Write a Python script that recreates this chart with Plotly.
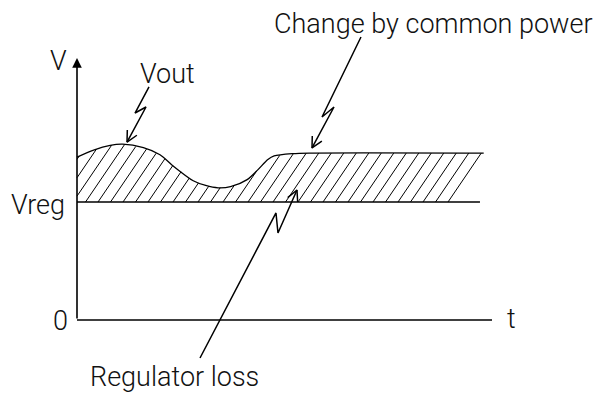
import numpy as np
import plotly.graph_objects as go

# ---- data (t in arbitrary time units, V normalised so Vreg = 1) ----
t_vals = [0, 0.4, 0.8, 1.1, 1.6, 2.0, 2.3, 2.8, 3.1, 3.4, 3.7, 4.1, 4.35, 4.6, 4.75, 5.2, 5.6, 9.8]
vout_vals = [1.38, 1.44, 1.48, 1.49, 1.46, 1.40, 1.31, 1.18, 1.14, 1.12, 1.13, 1.19, 1.27, 1.36, 1.39, 1.41, 1.415, 1.415]
vreg = 1.0
vreg_end = 9.71
t_axis_end = 10.0
v_axis_end = 2.22

# annotation bolt arrows (t, V)
bolt_vout = [(1.735, 1.975), (1.398, 1.754), (1.663, 1.805), (1.205, 1.508)]
bolt_change = [(6.843, 2.398), (5.904, 1.720), (6.193, 1.805), (5.663, 1.458)]
bolt_reg = [(2.964, -0.322), (4.795, 0.907), (4.843, 0.737), (5.301, 1.102)]

labels = {
    "V": (-0.434, 2.195),
    "Vout": (2.19, 2.085),
    "Change by common power": (8.58, 2.51),
    "Vreg": (-0.93, 0.975),
    "0": (-0.386, -0.008),
    "t": (10.48, 0.008),
    "Regulator loss": (2.36, -0.483),
}

# ---- layout scale (pixels per unit) ----
W, H = 614, 394
SX, SY = 41.5, 118.0
X0, Y0 = 77, 320
x_range = [-X0 / SX, (W - X0) / SX]
y_range = [(Y0 - H) / SY, Y0 / SY]

FONT = "Roboto, Liberation Sans, Arial, sans-serif"
fig = go.Figure()

# hatch lines between Vreg and Vout
k = 0.68 * SY / SX  # dt per dV
spacing = 12.5 / SX
tt_end = t_vals[-1]
vs = np.linspace(vreg, 1.6, 1500)
hx, hy = [], []
tb = 8.94
while tb > -1.0:
    tl = tb + (vs - vreg) * k
    cv = np.interp(tl, t_vals, vout_vals)
    valid = (tl >= 0) & (tl <= tt_end) & (vs <= cv)
    idx = np.where(valid)[0]
    if len(idx) > 1:
        i0 = idx[0]
        i1 = i0
        while i1 + 1 < len(vs) and valid[i1 + 1]:
            i1 += 1
        hx += [float(tl[i0]), float(tl[i1]), None]
        hy += [float(vs[i0]), float(vs[i1]), None]
    tb -= spacing
fig.add_trace(go.Scatter(x=hx, y=hy, mode="lines", line=dict(color="black", width=1),
                         hoverinfo="skip", showlegend=False))

# Vout curve
fig.add_trace(go.Scatter(x=t_vals, y=vout_vals, mode="lines",
                         line=dict(color="black", width=1.3, shape="spline", smoothing=0.8),
                         hoverinfo="skip", showlegend=False))
# Vreg line
fig.add_trace(go.Scatter(x=[0, vreg_end], y=[vreg, vreg], mode="lines",
                         line=dict(color="black", width=1.3), hoverinfo="skip", showlegend=False))
# t axis
fig.add_trace(go.Scatter(x=[0, t_axis_end], y=[0, 0], mode="lines",
                         line=dict(color="black", width=1.6), hoverinfo="skip", showlegend=False))


def bolt(points, L=12.0, theta=27.0):
    xs = [p[0] for p in points]
    ys = [p[1] for p in points]
    (xa, ya), (xb, yb) = points[-2], points[-1]
    dx, dy = (xb - xa) * SX, (yb - ya) * SY
    n = np.hypot(dx, dy)
    ux, uy = -dx / n, -dy / n
    hx_, hy_ = [], []
    for s in (1, -1):
        a = np.radians(theta) * s
        rx = ux * np.cos(a) - uy * np.sin(a)
        ry = ux * np.sin(a) + uy * np.cos(a)
        hx_.append(xb + rx * L / SX)
        hy_.append(yb + ry * L / SY)
    xs += [None, hx_[0], xb, hx_[1]]
    ys += [None, hy_[0], yb, hy_[1]]
    fig.add_trace(go.Scatter(x=xs, y=ys, mode="lines", line=dict(color="black", width=1.5),
                             hoverinfo="skip", showlegend=False))


for b in (bolt_vout, bolt_change, bolt_reg):
    bolt(b)

# V axis with arrow
fig.add_annotation(x=0, y=v_axis_end, ax=0, ay=0, xref="x", yref="y", axref="x", ayref="y",
                   text="", showarrow=True, arrowhead=2, arrowwidth=1.6, arrowsize=1.2,
                   arrowcolor="black")

for txt, (lx, ly) in labels.items():
    fig.add_annotation(x=lx, y=ly, xref="x", yref="y", text=txt, showarrow=False,
                       xanchor="center", yanchor="middle",
                       font=dict(family=FONT, size=27, color="#111", weight=300))

fig.update_layout(
    width=W, height=H, margin=dict(l=0, r=0, t=0, b=0),
    paper_bgcolor="white", plot_bgcolor="white",
    xaxis=dict(range=x_range, visible=False, fixedrange=True),
    yaxis=dict(range=y_range, visible=False, fixedrange=True),
    showlegend=False,
)
fig.write_html("out.html", config={"displayModeBar": False},
               post_script="document.body.style.margin='0';document.body.style.overflow='hidden';")
